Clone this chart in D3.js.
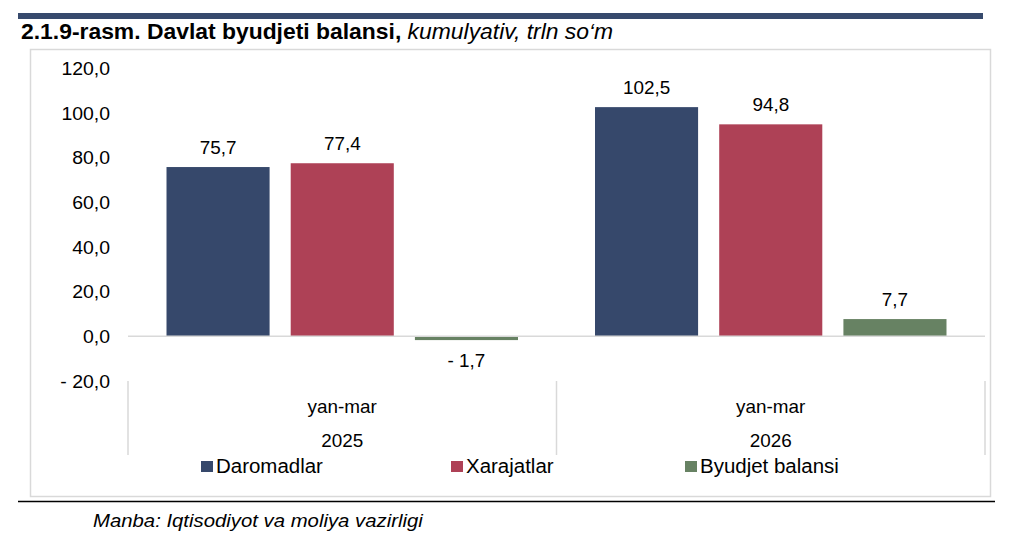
<!DOCTYPE html>
<html>
<head>
<meta charset="utf-8">
<script src="https://cdn.jsdelivr.net/npm/d3@7"></script>
<style>
  body { margin: 0; background: #fff; }
  svg { display: block; font-family: "Liberation Sans", Arial, sans-serif; }
</style>
</head>
<body>
<div class="viz"></div>
<script>
// categories on the x axis (two levels: period and year)
const periods = ['yan-mar', 'yan-mar'];
const years = ['2025', '2026'];
// series
const seriesNames = ['Daromadlar', 'Xarajatlar', 'Byudjet balansi'];
const daromadlar = [75.7, 102.5];
const xarajatlar = [77.4, 94.8];
const balans = [-1.7, 7.7];
// y axis ticks
const yTicks = [-20, 0, 20, 40, 60, 80, 100, 120];

const colors = ['#36486b', '#ae4156', '#678263'];
const seriesValues = [daromadlar, xarajatlar, balans];

const width = 1024;
const height = 538;
// the reference text is a little wider than Liberation Sans, so stretch it horizontally
const SX = 1.05;

const svg = d3.select('.viz')
  .append('svg')
  .attr('width', width)
  .attr('height', height);

// helper: text placed with a horizontal stretch
function addText(parent, x, y, str, size, anchor = 'start', sx = SX) {
  return parent.append('text')
    .attr('transform', `translate(${x} ${y}) scale(${sx} 1)`)
    .attr('text-anchor', anchor)
    .attr('font-size', `${size}px`)
    .attr('fill', '#000')
    .text(str);
}

// top band
svg.append('rect')
  .attr('x', 18)
  .attr('y', 13)
  .attr('width', 965)
  .attr('height', 6)
  .attr('fill', '#374a6d');

// title
const title = addText(svg, 21, 39, '', 21.8);
title.append('tspan')
  .attr('font-weight', 'bold')
  .text('2.1.9-rasm. Davlat byudjeti balansi, ');
title.append('tspan')
  .attr('font-style', 'italic')
  .text('kumulyativ, trln so‘m');

// chart frame
svg.append('rect')
  .attr('x', 30.5)
  .attr('y', 49.5)
  .attr('width', 960)
  .attr('height', 447)
  .attr('fill', 'none')
  .attr('stroke', '#d9d9d9')
  .attr('stroke-width', 1.5);

// bottom rule
svg.append('line')
  .attr('x1', 18)
  .attr('x2', 995)
  .attr('y1', 501.5)
  .attr('y2', 501.5)
  .attr('stroke', '#000')
  .attr('stroke-width', 1.5);

// footer source
addText(svg, 93, 527, 'Manba: Iqtisodiyot va moliya vazirligi', 18, 'start', 1.13)
  .attr('font-style', 'italic');

const plot = { left: 128, right: 985, top: 68, bottom: 381 };

const yScale = d3.scaleLinear()
  .domain([-20, 120])
  .range([plot.bottom, plot.top]);

const xScale = d3.scaleBand()
  .domain(d3.range(years.length))
  .range([plot.left, plot.right])
  .padding(0);

const xInner = d3.scaleBand()
  .domain(seriesNames)
  .range([0, xScale.bandwidth()])
  .paddingInner(0.17)
  .paddingOuter(0.31);

const fmt = v => {
  const s = d3.format('.1f')(Math.abs(v)).replace('.', ',');
  return v < 0 ? `- ${s}` : s;
};

// y axis labels (no axis line)
const yAxisG = svg.append('g').attr('class', 'y-axis');
yTicks.forEach(t => addText(yAxisG, 110, yScale(t) + 6.8, fmt(t), 18.5, 'end'));

// bars
seriesNames.forEach((name, si) => {
  const g = svg.append('g').attr('fill', colors[si]);
  g.selectAll('rect')
    .data(seriesValues[si])
    .enter()
    .append('rect')
    .attr('x', (d, i) => xScale(i) + xInner(name))
    .attr('y', d => yScale(Math.max(0, d)))
    .attr('width', xInner.bandwidth())
    .attr('height', d => Math.abs(yScale(d) - yScale(0)));

  const labels = svg.append('g');
  seriesValues[si].forEach((d, i) => {
    const x = xScale(i) + xInner(name) + xInner.bandwidth() / 2;
    const y = d >= 0 ? yScale(d) - 13 : yScale(d) + 27;
    addText(labels, x, y, fmt(d), 18, 'middle');
  });
});

// zero line
svg.append('line')
  .attr('x1', plot.left)
  .attr('x2', plot.right)
  .attr('y1', yScale(0))
  .attr('y2', yScale(0))
  .attr('stroke', '#d9d9d9')
  .attr('stroke-width', 1.5);

// category dividers
const dividers = [plot.left, ...d3.range(years.length).map(i => xScale(i) + xScale.bandwidth())];
svg.append('g')
  .selectAll('line')
  .data(dividers)
  .enter()
  .append('line')
  .attr('x1', d => d)
  .attr('x2', d => d)
  .attr('y1', plot.bottom)
  .attr('y2', 455)
  .attr('stroke', '#d9d9d9')
  .attr('stroke-width', 1.5);

// category labels
const catG = svg.append('g');
periods.forEach((p, i) => addText(catG, xScale(i) + xScale.bandwidth() / 2, 413, p, 18, 'middle'));
years.forEach((y, i) => addText(catG, xScale(i) + xScale.bandwidth() / 2, 447, y, 18, 'middle'));

// legend
const legendX = [201, 451, 685];
const legend = svg.append('g');
seriesNames.forEach((name, i) => {
  legend.append('rect')
    .attr('x', legendX[i])
    .attr('y', 461)
    .attr('width', 12)
    .attr('height', 11)
    .attr('fill', colors[i]);
  addText(legend, legendX[i] + 15, 473, name, 19.5);
});
</script>
</body>
</html>
